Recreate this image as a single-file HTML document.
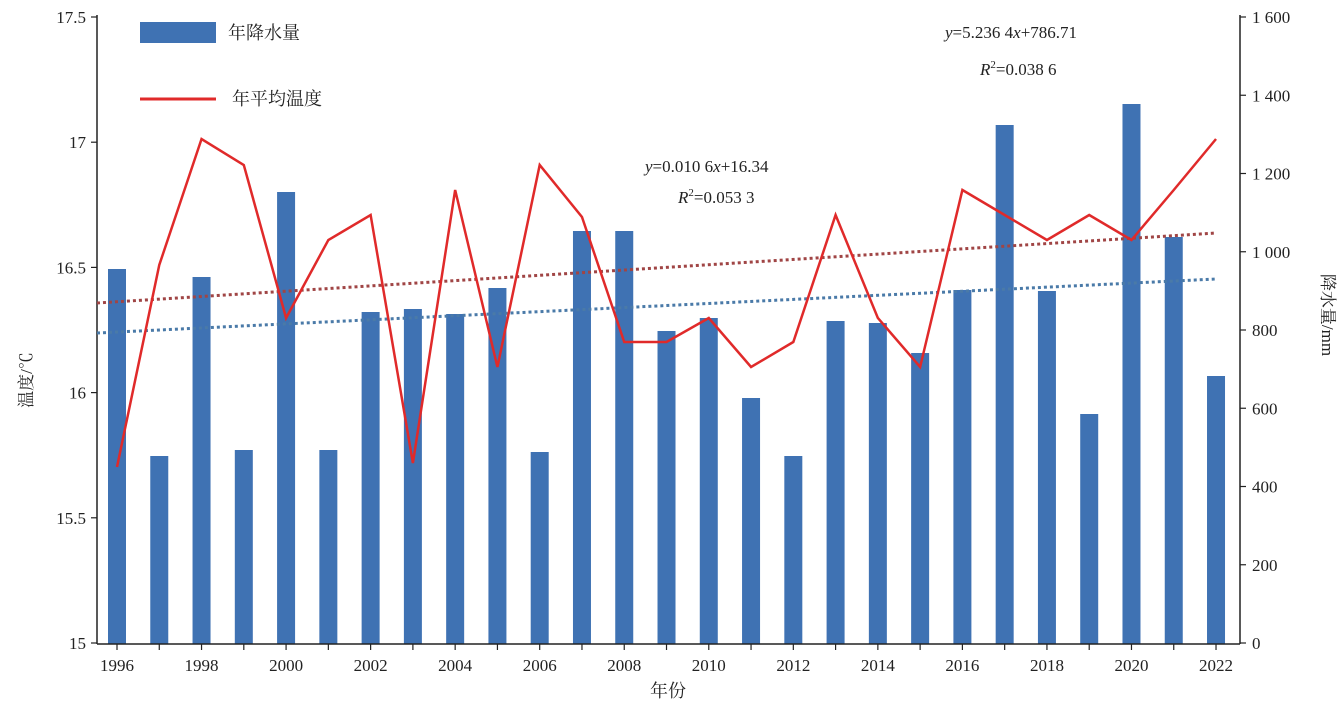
<!DOCTYPE html>
<html><head><meta charset="utf-8"><style>
body{margin:0;background:#fff}
text{font-family:"Liberation Serif","Noto Serif CJK SC",serif;fill:#222}
</style></head><body>
<svg width="1341" height="705" xmlns="http://www.w3.org/2000/svg">
<g id="bars" fill="#3f72b3"></g>
<line x1="97" y1="15" x2="97" y2="644" stroke="#222" stroke-width="1.5"/>
<line x1="1240" y1="15" x2="1240" y2="644" stroke="#222" stroke-width="1.5"/>
<line x1="97" y1="644" x2="1240" y2="644" stroke="#222" stroke-width="1.5"/>
<g id="ticks" stroke="#222" stroke-width="1.2"></g>
<g id="labs" font-size="17"></g>
<line x1="97" y1="303" x2="1216" y2="233" stroke="#a04545" stroke-width="3" stroke-dasharray="3,3"/>
<line x1="97" y1="333" x2="1216" y2="279" stroke="#4a7aa8" stroke-width="3" stroke-dasharray="3,3"/>
<polyline id="temp" fill="none" stroke="#e02a2a" stroke-width="2.5"/>
<rect x="140" y="22" width="76" height="21" fill="#3f72b3"/>
<text x="228" y="39" font-size="18">年降水量</text>
<line x1="140" y1="99" x2="216" y2="99" stroke="#e02a2a" stroke-width="3"/>
<text x="232" y="105" font-size="18">年平均温度</text>
<text x="945" y="38" font-size="17"><tspan font-style="italic">y</tspan>=5.236 4<tspan font-style="italic">x</tspan>+786.71</text>
<text x="980" y="75" font-size="17"><tspan font-style="italic">R</tspan><tspan font-size="11" dy="-7">2</tspan><tspan dy="7">=0.038 6</tspan></text>
<text x="645" y="172" font-size="17"><tspan font-style="italic">y</tspan>=0.010 6<tspan font-style="italic">x</tspan>+16.34</text>
<text x="678" y="203" font-size="17"><tspan font-style="italic">R</tspan><tspan font-size="11" dy="-7">2</tspan><tspan dy="7">=0.053 3</tspan></text>
<text x="668" y="697" font-size="18" text-anchor="middle">年份</text>
<text transform="translate(32,380) rotate(-90)" font-size="17" text-anchor="middle">温度/℃</text>
<text transform="translate(1322,315) rotate(90)" font-size="17" text-anchor="middle">降水量/mm</text>
</svg>
<script>
var ns="http://www.w3.org/2000/svg";
function el(p,t,a,tx){var e=document.createElementNS(ns,t);for(var k in a)e.setAttribute(k,a[k]);if(tx)e.textContent=tx;document.getElementById(p).appendChild(e);}
var bt=[269,456,277,450,192,450,312,309,314,288,452,231,231,331,318,398,456,321,323,353,290,125,291,414,104,237,376];
var tp=[467,265,139,165,318,240,215,463,190,367,165,217,342,342,318,367,342,215,318,367,190,215,240,215,240,190,139];
var pts=[];
for(var i=0;i<27;i++){var x=117+i*42.27;el("bars","rect",{x:x-9,y:bt[i],width:18,height:644-bt[i]});pts.push(x+","+tp[i]);
el("ticks","line",{x1:x,y1:644,x2:x,y2:650});
if(i%2==0)el("labs","text",{x:x,y:671,"text-anchor":"middle"},String(1996+i));}
document.getElementById("temp").setAttribute("points",pts.join(" "));
var L=["17.5","17","16.5","16","15.5","15"];
for(var j=0;j<6;j++){var y=17+j*125.2;el("ticks","line",{x1:91,y1:y,x2:97,y2:y});el("labs","text",{x:86,y:y+6,"text-anchor":"end"},L[j]);}
var R=["1 600","1 400","1 200","1 000","800","600","400","200","0"];
for(var j=0;j<9;j++){var y=17+j*78.25;el("ticks","line",{x1:1240,y1:y,x2:1246,y2:y});el("labs","text",{x:1252,y:y+6},R[j]);}
</script>
</body></html>
